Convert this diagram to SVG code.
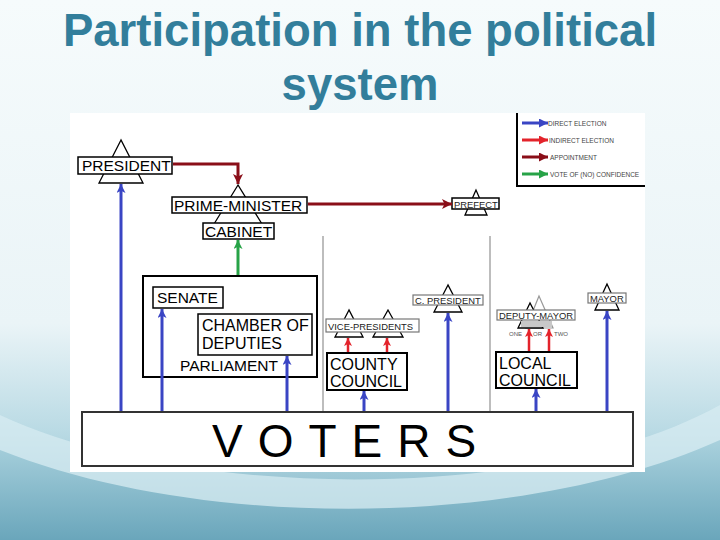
<svg xmlns="http://www.w3.org/2000/svg" width="720" height="540" viewBox="0 0 720 540">
<defs>
<linearGradient id="bg" x1="0" y1="0" x2="0" y2="1">
<stop offset="0" stop-color="#f6fbfc"/>
<stop offset="0.6" stop-color="#eaf4f7"/>
<stop offset="0.8" stop-color="#b9dae4"/>
<stop offset="1" stop-color="#78b0c3"/>
</linearGradient>
<linearGradient id="sw" x1="0" y1="0" x2="0" y2="1">
<stop offset="0" stop-color="#a9d1dd"/>
<stop offset="1" stop-color="#6aa6bb"/>
</linearGradient>
<marker id="aBlue" viewBox="0 0 10 10" refX="10" refY="5" markerUnits="userSpaceOnUse" markerWidth="10" markerHeight="9" orient="auto"><path d="M0,0 L10,5 L0,10 L2.5,5 Z" fill="#3a45c4"/></marker>
<marker id="aRed" viewBox="0 0 10 10" refX="10" refY="5" markerUnits="userSpaceOnUse" markerWidth="9" markerHeight="8" orient="auto"><path d="M0,0 L10,5 L0,10 L2.5,5 Z" fill="#e3232b"/></marker>
<marker id="aDark" viewBox="0 0 10 10" refX="10" refY="5" markerUnits="userSpaceOnUse" markerWidth="11" markerHeight="10" orient="auto"><path d="M0,0 L10,5 L0,10 L2.5,5 Z" fill="#8a0e18"/></marker>
<marker id="aGreen" viewBox="0 0 10 10" refX="10" refY="5" markerUnits="userSpaceOnUse" markerWidth="10" markerHeight="9" orient="auto"><path d="M0,0 L10,5 L0,10 L2.5,5 Z" fill="#27a347"/></marker>
<marker id="lBlue" viewBox="0 0 10 10" refX="10" refY="5" markerUnits="userSpaceOnUse" markerWidth="11" markerHeight="9" orient="auto"><path d="M0,0 L10,5 L0,10 Z" fill="#3a45c4"/></marker>
<marker id="lRed" viewBox="0 0 10 10" refX="10" refY="5" markerUnits="userSpaceOnUse" markerWidth="11" markerHeight="9" orient="auto"><path d="M0,0 L10,5 L0,10 Z" fill="#e3232b"/></marker>
<marker id="lDark" viewBox="0 0 10 10" refX="10" refY="5" markerUnits="userSpaceOnUse" markerWidth="11" markerHeight="9" orient="auto"><path d="M0,0 L10,5 L0,10 Z" fill="#8a0e18"/></marker>
<marker id="lGreen" viewBox="0 0 10 10" refX="10" refY="5" markerUnits="userSpaceOnUse" markerWidth="11" markerHeight="9" orient="auto"><path d="M0,0 L10,5 L0,10 Z" fill="#27a347"/></marker>
</defs>
<style>
text{font-family:"Liberation Sans",Arial,sans-serif;fill:#000}
.title{font-size:45.5px;font-weight:bold;fill:#327e9b;text-anchor:middle}
.box{fill:#fff;stroke:#000;stroke-width:1.5}
.gbox{fill:#fff;stroke:#777;stroke-width:1.2}
.tri{fill:#fff;stroke:#000;stroke-width:1.3}
.big{font-size:15.5px}
.med{font-size:16px}
.sm{font-size:9.4px;fill:#222}
.leg{font-size:6.5px;fill:#444}
.tiny{font-size:6px;fill:#555}
.blue{stroke:#3a45c4;stroke-width:3;fill:none;marker-end:url(#aBlue)}
.red{stroke:#e3232b;stroke-width:2.5;fill:none;marker-end:url(#aRed)}
.dark{stroke:#8a0e18;stroke-width:3;fill:none;marker-end:url(#aDark)}
.green{stroke:#27a347;stroke-width:3;fill:none;marker-end:url(#aGreen)}
.sep{stroke:#bdbdbd;stroke-width:2}
</style>

<rect x="0" y="0" width="720" height="540" fill="url(#bg)"/>
<path d="M0,415 C180,500 540,505 720,405 L720,540 L0,540 Z" fill="#d9edf2" opacity="0.7"/>
<path d="M0,450 C200,530 520,530 720,440 L720,540 L0,540 Z" fill="url(#sw)"/>

<text class="title" x="360" y="46">Participation in the political</text>
<text class="title" x="360" y="100">system</text>

<rect x="70" y="113" width="575" height="359" fill="#fff"/>

<g id="legend">
<path d="M517,113 V186 H645" fill="none" stroke="#000" stroke-width="2"/>
<line x1="522" y1="123" x2="548" y2="123" stroke="#3a45c4" stroke-width="3" marker-end="url(#lBlue)"/>
<line x1="522" y1="140" x2="548" y2="140" stroke="#e3232b" stroke-width="3" marker-end="url(#lRed)"/>
<line x1="522" y1="157" x2="548" y2="157" stroke="#8a0e18" stroke-width="3" marker-end="url(#lDark)"/>
<line x1="522" y1="174" x2="548" y2="174" stroke="#27a347" stroke-width="3" marker-end="url(#lGreen)"/>
<text class="leg" x="548" y="125.5">DIRECT ELECTION</text>
<text class="leg" x="549" y="142.5">INDIRECT ELECTION</text>
<text class="leg" x="550" y="159.5">APPOINTMENT</text>
<text class="leg" x="550" y="176.5">VOTE OF (NO) CONFIDENCE</text>
</g>

<g id="separators">
<line class="sep" x1="323" y1="236" x2="323" y2="411"/>
<line class="sep" x1="490" y1="236" x2="490" y2="411"/>
</g>

<g id="president">
<polygon class="tri" points="121,140 99,183 143,183"/>
<rect class="box" x="78" y="157" width="94" height="17"/>
<text class="big" x="82" y="171">PRESIDENT</text>
</g>

<g id="prime-minister">
<polygon class="tri" points="238,185 214,224 262,224"/>
<rect class="box" x="172" y="197" width="135" height="16"/>
<text class="big" x="174" y="211">PRIME-MINISTER</text>
</g>

<g id="cabinet">
<rect class="box" x="203" y="223" width="71" height="16"/>
<text class="big" x="205" y="237">CABINET</text>
</g>

<g id="prefect">
<polygon class="tri" points="476,190 465,215 487,215"/>
<rect class="box" x="452" y="198" width="47" height="11"/>
<text class="sm" x="454" y="207.5">PREFECT</text>
</g>

<g id="parliament">
<rect x="143" y="276" width="174" height="101" fill="#fff" stroke="#000" stroke-width="2"/>
<text class="big" x="180" y="371">PARLIAMENT</text>
</g>

<g id="senate">
<rect class="box" x="153" y="287" width="70" height="21"/>
<text class="big" x="157" y="303">SENATE</text>
</g>

<g id="chamber">
<rect class="box" x="198" y="314" width="114" height="41"/>
<text class="med" x="202" y="331">CHAMBER OF</text>
<text class="med" x="202" y="349">DEPUTIES</text>
</g>

<g id="vice-presidents">
<polygon class="tri" points="349,310 335,337 363,337"/>
<polygon class="tri" points="388,310 373,337 403,337"/>
<rect class="gbox" x="326" y="319" width="93" height="13"/>
<text class="sm" x="328" y="329.5">VICE-PRESIDENTS</text>
</g>

<g id="county-council">
<rect x="327" y="353" width="80" height="37" fill="#fff" stroke="#000" stroke-width="2"/>
<text class="med" x="330" y="370">COUNTY</text>
<text class="med" x="330" y="387">COUNCIL</text>
</g>

<g id="c-president">
<polygon class="tri" points="448,285 434,312 462,312"/>
<rect class="gbox" x="413" y="295" width="70" height="10"/>
<text class="sm" x="415" y="303.5">C. PRESIDENT</text>
</g>

<g id="deputy-mayor">
<polygon points="539,296 526,328 553,328" fill="#fff" stroke="#999" stroke-width="1.2"/>
<polygon class="tri" points="530,303 518,328 543,328"/>
<rect x="521" y="321" width="31" height="6" fill="#c8c8c8"/>
<rect class="gbox" x="497" y="310" width="78" height="10"/>
<text class="sm" x="499" y="318.5">DEPUTY-MAYOR</text>
<text class="tiny" x="509" y="336">ONE</text>
<text class="tiny" x="533" y="336">OR</text>
<text class="tiny" x="554" y="336">TWO</text>
</g>

<g id="local-council">
<rect x="496" y="352" width="81" height="36" fill="#fff" stroke="#000" stroke-width="2"/>
<text class="med" x="499" y="369">LOCAL</text>
<text class="med" x="499" y="386">COUNCIL</text>
</g>

<g id="mayor">
<polygon class="tri" points="607,284 595,310 619,310"/>
<rect class="gbox" x="588" y="293" width="38" height="10"/>
<text class="sm" x="590" y="301.5">MAYOR</text>
</g>

<g id="voters">
<rect x="82" y="412" width="551" height="54" fill="#fff" stroke="#333" stroke-width="2"/>
<text x="212" y="457" font-size="46" letter-spacing="15">VOTERS</text>
</g>

<g id="connectors">
<line class="blue" x1="121" y1="411" x2="121" y2="184"/>
<line class="blue" x1="162" y1="411" x2="162" y2="309"/>
<line class="blue" x1="287" y1="411" x2="287" y2="356"/>
<line class="blue" x1="364" y1="411" x2="364" y2="391"/>
<line class="blue" x1="448" y1="411" x2="448" y2="313"/>
<line class="blue" x1="536" y1="411" x2="536" y2="389"/>
<line class="blue" x1="607" y1="411" x2="607" y2="311"/>
<line class="red" x1="348" y1="352" x2="348" y2="338"/>
<line class="red" x1="387" y1="352" x2="387" y2="338"/>
<line class="red" x1="529" y1="351" x2="529" y2="329"/>
<line class="red" x1="549" y1="351" x2="549" y2="329"/>
<path class="dark" d="M173,164 H238 V184"/>
<path class="dark" d="M308,204 H452"/>
<line class="green" x1="238" y1="275" x2="238" y2="240"/>
</g>
</svg>
